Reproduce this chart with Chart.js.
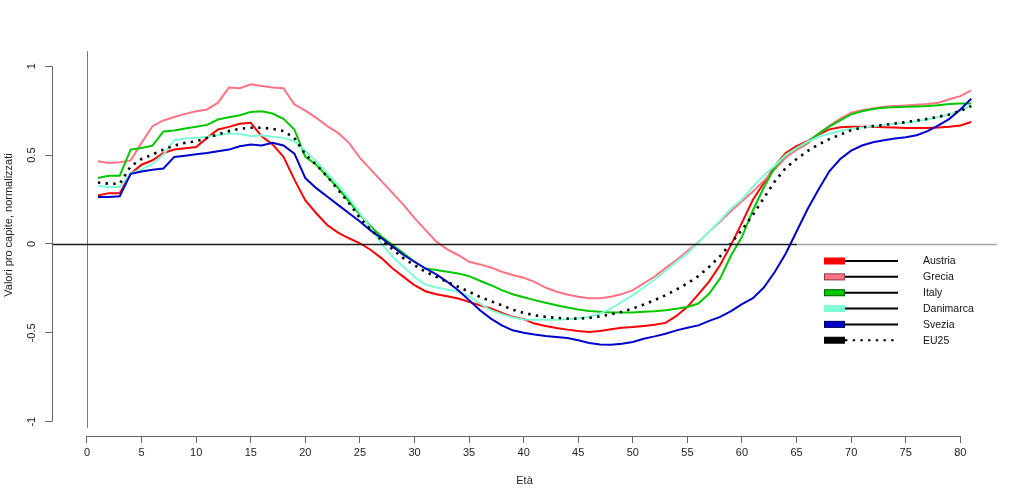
<!DOCTYPE html>
<html><head><meta charset="utf-8">
<script src="https://cdn.jsdelivr.net/npm/chart.js@4/dist/chart.umd.min.js"></script>
<style>html,body{margin:0;padding:0;background:#fff;}canvas{display:block;}</style>
</head><body>
<canvas id="c" width="1024" height="502"></canvas>
<script>
const ages = [1,2,3,4,5,6,7,8,9,10,11,12,13,14,15,16,17,18,19,20,21,22,23,24,25,26,27,28,29,30,
  31,32,33,34,35,36,37,38,39,40,41,42,43,44,45,46,47,48,49,50,51,52,53,54,55,56,57,58,59,60,
  61,62,63,64,65,66,67,68,69,70,71,72,73,74,75,76,77,78,79,80,81];

const austria = [0.273,0.286,0.286,0.395,0.446,0.471,0.512,0.531,0.538,0.546,
  0.597,0.644,0.659,0.676,0.682,0.606,0.560,0.490,0.362,0.245,
  0.173,0.107,0.064,0.032,0.004,-0.034,-0.081,-0.138,-0.185,-0.232,
  -0.266,-0.283,-0.294,-0.307,-0.326,-0.345,-0.363,-0.388,-0.410,-0.423,
  -0.448,-0.461,-0.473,-0.482,-0.490,-0.495,-0.490,-0.480,-0.471,-0.467,
  -0.461,-0.454,-0.444,-0.405,-0.354,-0.284,-0.210,-0.118,-0.005,0.120,
  0.249,0.343,0.437,0.512,0.550,0.578,0.615,0.645,0.657,0.659,
  0.659,0.659,0.657,0.655,0.653,0.653,0.653,0.655,0.659,0.667,
  0.686];

const grecia = [0.465,0.456,0.460,0.470,0.569,0.663,0.695,0.714,0.732,0.747,
  0.757,0.795,0.880,0.876,0.898,0.889,0.880,0.876,0.785,0.750,
  0.710,0.663,0.625,0.569,0.484,0.418,0.352,0.286,0.220,0.145,
  0.079,0.013,-0.030,-0.062,-0.100,-0.115,-0.132,-0.156,-0.175,-0.190,
  -0.213,-0.245,-0.269,-0.284,-0.297,-0.305,-0.305,-0.297,-0.282,-0.260,
  -0.222,-0.183,-0.136,-0.090,-0.040,0.010,0.070,0.125,0.185,0.240,
  0.295,0.355,0.420,0.485,0.530,0.565,0.620,0.665,0.705,0.738,
  0.753,0.762,0.772,0.776,0.779,0.783,0.787,0.795,0.814,0.832,
  0.864];

const italy = [0.371,0.384,0.384,0.531,0.540,0.553,0.633,0.638,0.650,0.659,
  0.670,0.700,0.713,0.724,0.742,0.747,0.734,0.704,0.644,0.490,
  0.446,0.380,0.314,0.239,0.164,0.098,0.041,-0.006,-0.053,-0.100,
  -0.138,-0.147,-0.156,-0.166,-0.181,-0.207,-0.232,-0.260,-0.283,-0.300,
  -0.316,-0.331,-0.345,-0.358,-0.369,-0.377,-0.382,-0.386,-0.386,-0.386,
  -0.382,-0.379,-0.373,-0.365,-0.355,-0.335,-0.279,-0.194,-0.065,0.040,
  0.190,0.318,0.430,0.500,0.540,0.573,0.620,0.660,0.695,0.729,
  0.747,0.760,0.766,0.770,0.772,0.774,0.776,0.781,0.787,0.791,
  0.791];

const danimarca = [0.328,0.320,0.320,0.399,0.418,0.450,0.503,0.584,0.593,0.597,
  0.603,0.612,0.622,0.620,0.606,0.612,0.603,0.597,0.578,0.525,
  0.465,0.399,0.333,0.258,0.173,0.088,0.000,-0.072,-0.128,-0.185,
  -0.228,-0.245,-0.256,-0.269,-0.294,-0.335,-0.373,-0.395,-0.414,-0.425,
  -0.426,-0.427,-0.427,-0.424,-0.420,-0.410,-0.392,-0.363,-0.326,-0.288,
  -0.245,-0.200,-0.151,-0.100,-0.053,0.008,0.070,0.132,0.200,0.252,
  0.322,0.385,0.440,0.500,0.540,0.575,0.602,0.620,0.636,0.648,
  0.655,0.663,0.670,0.676,0.682,0.691,0.700,0.714,0.729,0.751,
  0.779];

const svezia = [0.264,0.264,0.268,0.395,0.408,0.418,0.425,0.490,0.497,0.505,
  0.512,0.522,0.531,0.550,0.560,0.554,0.569,0.554,0.508,0.371,
  0.314,0.267,0.220,0.173,0.126,0.075,0.032,-0.015,-0.062,-0.100,
  -0.138,-0.171,-0.213,-0.260,-0.316,-0.373,-0.420,-0.458,-0.486,-0.500,
  -0.510,-0.518,-0.524,-0.529,-0.542,-0.557,-0.565,-0.567,-0.561,-0.552,
  -0.533,-0.520,-0.505,-0.486,-0.471,-0.458,-0.433,-0.410,-0.378,-0.338,
  -0.305,-0.245,-0.158,-0.055,0.070,0.195,0.305,0.409,0.478,0.525,
  0.554,0.572,0.584,0.593,0.601,0.612,0.635,0.667,0.704,0.757,
  0.817];

const eu25 = [0.346,0.339,0.339,0.437,0.478,0.503,0.531,0.554,0.569,0.578,
  0.597,0.616,0.635,0.648,0.654,0.654,0.648,0.635,0.597,0.503,
  0.446,0.380,0.305,0.230,0.145,0.080,0.020,-0.030,-0.081,-0.119,
  -0.156,-0.185,-0.213,-0.241,-0.269,-0.298,-0.322,-0.345,-0.370,-0.388,
  -0.401,-0.410,-0.416,-0.420,-0.420,-0.416,-0.407,-0.395,-0.382,-0.363,
  -0.341,-0.316,-0.288,-0.256,-0.222,-0.181,-0.128,-0.068,0.004,0.080,
  0.164,0.258,0.352,0.427,0.478,0.523,0.560,0.590,0.615,0.640,
  0.655,0.663,0.670,0.678,0.685,0.695,0.704,0.716,0.729,0.748,
  0.776];

const xTicks = [0,5,10,15,20,25,30,35,40,45,50,55,60,65,70,75,80];
const yTicks = [-1,-0.5,0,0.5,1];
const yTickLabels = ['-1','-0.5','0','0.5','1'];
const seriesNames = ['Austria','Grecia','Italy','Danimarca','Svezia','EU25'];
const xTitle = 'Età';
const yTitle = 'Valori pro capite, normalizzati';

const FONT = "'Liberation Sans', Arial, sans-serif";
const colors = ['#ff0000','#ff7385','#00c800','#7fffd4','#0000cc','#000000'];
const legendBorders = [null,'rgba(0,0,0,0.45)','rgba(0,0,0,0.5)',null,'rgba(0,0,0,0.5)',null];
const seriesValues = [austria, grecia, italy, danimarca, svezia, eu25];

const datasets = seriesValues.map((vals, i) => ({
  label: seriesNames[i],
  data: ages.map((a, k) => ({x: a, y: vals[k]})),
  borderColor: colors[i],
  backgroundColor: colors[i],
  borderWidth: i === 5 ? 2.6 : 2,
  borderDash: i === 5 ? [2.4, 5.3] : [],
  pointRadius: 0,
  tension: 0,
  fill: false,
  order: 5 - i
}));

const rPlot = {
  id: 'rPlot',
  afterDatasetsDraw(chart) {
    const {ctx, chartArea, scales: {x, y}} = chart;
    ctx.save();
    // vertical line at x = 0
    const x0 = Math.round(x.getPixelForValue(0)) + 0.5;
    ctx.strokeStyle = '#777'; ctx.lineWidth = 1;
    ctx.beginPath(); ctx.moveTo(x0, y.getPixelForValue(1.085)); ctx.lineTo(x0, y.getPixelForValue(-1.035)); ctx.stroke();
    // horizontal line at 0
    const y0 = Math.round(y.getPixelForValue(0)) + 0.5;
    const xs = x.getPixelForValue(65.05);
    ctx.lineWidth = 1.3;
    ctx.strokeStyle = '#1a1a1a';
    ctx.beginPath(); ctx.moveTo(chartArea.left, y0); ctx.lineTo(xs, y0); ctx.stroke();
    ctx.strokeStyle = '#a8a8a8';
    ctx.beginPath(); ctx.moveTo(xs, y0); ctx.lineTo(chartArea.right, y0); ctx.stroke();
    // axis lines
    ctx.strokeStyle = '#666'; ctx.lineWidth = 1;
    const yb = Math.round(chartArea.bottom) + 0.5;
    ctx.beginPath(); ctx.moveTo(x.getPixelForValue(0), yb); ctx.lineTo(x.getPixelForValue(80), yb); ctx.stroke();
    const xl = Math.round(chartArea.left) + 0.5;
    ctx.beginPath(); ctx.moveTo(xl, y.getPixelForValue(1)); ctx.lineTo(xl, y.getPixelForValue(-1)); ctx.stroke();
    // legend
    chart.data.datasets.forEach((ds, i) => {
      const cy = 261 + i * 15.85;
      ctx.fillStyle = colors[i];
      ctx.fillRect(824, cy - 3.5, 21, 7);
      if (legendBorders[i]) {
        ctx.strokeStyle = legendBorders[i]; ctx.lineWidth = 1;
        ctx.strokeRect(824.5, cy - 3, 20, 6);
      }
      ctx.strokeStyle = '#000'; ctx.lineWidth = 2;
      ctx.setLineDash(i === 5 ? [2.4, 5.3] : []);
      ctx.beginPath(); ctx.moveTo(845, cy); ctx.lineTo(898, cy); ctx.stroke();
      ctx.setLineDash([]);
      ctx.fillStyle = '#111';
      ctx.font = '10.5px ' + FONT;
      ctx.textBaseline = 'middle'; ctx.textAlign = 'left';
      ctx.fillText(ds.label, 923, cy + 0.5);
    });
    ctx.restore();
  }
};

new Chart(document.getElementById('c'), {
  type: 'line',
  data: { datasets },
  options: {
    responsive: false,
    animation: false,
    layout: { padding: { top: 14, right: 27, left: 0, bottom: 0 } },
    plugins: { legend: { display: false }, tooltip: { enabled: false } },
    scales: {
      x: {
        type: 'linear', position: 'bottom', min: -3.206, max: 83.36,
        afterBuildTicks: s => { s.ticks = xTicks.map(v => ({value: v})); },
        afterFit: s => { s.height = 66; },
        ticks: { autoSkip: false, maxRotation: 0, minRotation: 0, padding: 3,
          font: { family: FONT, size: 11 }, color: '#222', callback: v => String(v) },
        grid: { drawOnChartArea: false, drawTicks: true, tickLength: 7, color: '#666', lineWidth: 1 },
        border: { display: false },
        title: { display: true, text: xTitle, font: { family: FONT, size: 11 }, color: '#222',
          padding: { top: 0, bottom: 14 } }
      },
      y: {
        type: 'linear', position: 'left', min: -1.0805, max: 1.294,
        afterBuildTicks: s => { s.ticks = yTicks.map(v => ({value: v})); },
        afterFit: s => { s.width = 52; },
        ticks: { autoSkip: false, minRotation: 90, maxRotation: 90, padding: 4, crossAlign: 'center',
          font: { family: FONT, size: 11 }, color: '#222',
          callback: v => yTickLabels[yTicks.indexOf(v)] },
        grid: { drawOnChartArea: false, drawTicks: true, tickLength: 7, color: '#666', lineWidth: 1 },
        border: { display: false },
        title: { display: true, text: yTitle, font: { family: FONT, size: 11 }, color: '#222',
          padding: { top: 2, bottom: 0 } }
      }
    }
  },
  plugins: [rPlot]
});
</script>
</body></html>
